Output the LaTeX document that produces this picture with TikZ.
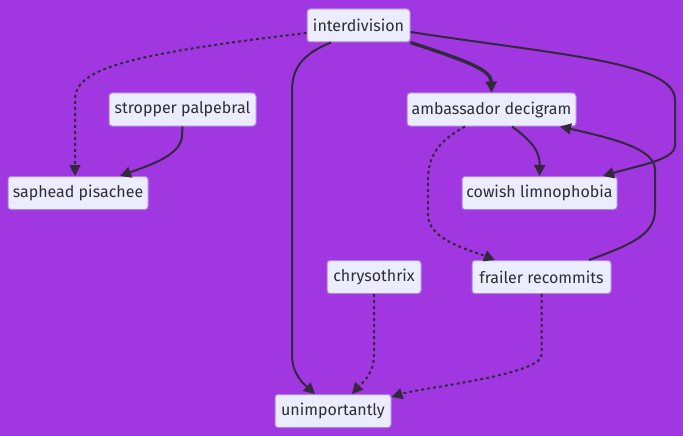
\documentclass[tikz,border=0pt]{standalone}
\usepackage{fontspec}
\setmainfont{Fira Sans}
\usetikzlibrary{arrows.meta}
\definecolor{bgc}{RGB}{160,55,224}
\definecolor{nodefill}{RGB}{236,236,255}
\definecolor{nodeline}{RGB}{170,130,230}
\definecolor{edgec}{RGB}{51,40,60}
\definecolor{textc}{RGB}{45,45,50}
\tikzset{
  box/.style={draw=nodeline, line width=1pt, fill=nodefill, rounded corners=3pt,
    minimum height=33pt, inner sep=0pt, text=textc, font=\fontsize{16}{19}\selectfont},
  edge/.style={draw=edgec, line width=2pt, -{Triangle[length=11pt,width=11pt]}},
  dotedge/.style={edge, dash pattern=on 3pt off 3pt},
  thickedge/.style={edge, line width=3.4pt}
}
\begin{document}
\begin{tikzpicture}[x=1pt,y=-1pt]
\fill[bgc] (0,0) rectangle (683,436);
\useasboundingbox (0,0) rectangle (683,436);
\node[box, minimum width=103pt] (intd) at (358.5,25.5) {interdivision};
\node[box, minimum width=169pt] (amb) at (491.5,109.5) {ambassador decigram};
\node[box, minimum width=147pt] (strop) at (182.5,109.5) {stropper palpebral};
\node[box, minimum width=140pt] (saph) at (78,193) {saphead pisachee};
\node[box, minimum width=155pt] (cow) at (539.5,193) {cowish limnophobia};
\node[box, minimum width=94pt] (chrys) at (374,277) {chrysothrix};
\node[box, minimum width=139pt] (frail) at (541.5,277) {frailer recommits};
\node[box, minimum width=116pt] (unimp) at (333,411) {unimportantly};
% interdivision -> saphead
\draw[dotedge] (intd.west |- 0,33) .. controls (120,55) and (75,70) .. (75,100) -- (saph.north -| 75,0);
% stropper -> saphead
\draw[edge] (strop.south) -- (182,135) .. controls (182,155) and (150,165) .. (saph.north -| 120,0);
% interdivision -> ambassador
\draw[thickedge] (intd.south east) .. controls (470,62) and (491,70) .. (amb.north);
% interdivision -> cowish
\draw[edge] (intd.east |- 0,32) .. controls (560,55) and (675,62) .. (675,100) -- (675,145) .. controls (675,160) and (640,165) .. (cow.north -| 603,0);
% interdivision -> unimportantly
\draw[edge] (intd.south -| 331,0) .. controls (300,55) and (292,70) .. (292,92) -- (292,355) .. controls (292,375) and (305,385) .. (unimp.north -| 315,0);
% ambassador -> cowish
\draw[edge] (amb.south -| 512,0) .. controls (530,140) and (540,150) .. (cow.north);
% ambassador -> frailer
\draw[dotedge] (amb.south -| 465,0) .. controls (440,140) and (428,155) .. (428,180) -- (428,215) .. controls (428,240) and (470,250) .. (frail.north -| 495,0);
% frailer -> ambassador
\draw[edge] (frail.north -| 589,0) .. controls (630,245) and (655,235) .. (655,210) -- (655,170) .. controls (655,150) and (620,140) .. (amb.south -| 560,0);
% chrysothrix -> unimportantly
\draw[dotedge] (chrys.south) -- (374,355) .. controls (374,375) and (360,385) .. (unimp.north -| 352,0);
% frailer -> unimportantly
\draw[dotedge] (frail.south) -- (541.5,355) .. controls (541.5,375) and (420,388) .. (unimp.east |- 0,397);
\end{tikzpicture}
\end{document}
